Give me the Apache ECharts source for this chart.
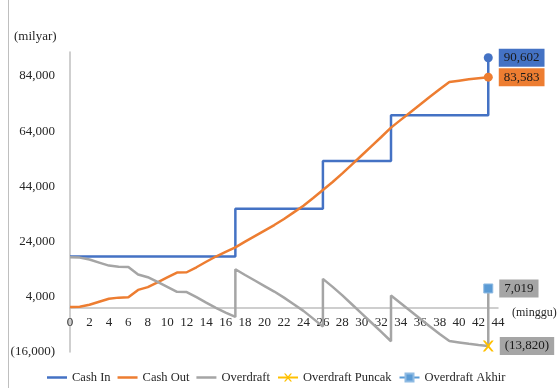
<!DOCTYPE html>
<html>
<head>
<meta charset="utf-8">
<script src="https://cdn.jsdelivr.net/npm/echarts@6/dist/echarts.min.js"></script>
<style>
  html, body { margin: 0; padding: 0; background: #fff; }
  #chart { width: 559px; height: 388px; }
</style>
</head>
<body>
<div id="chart"></div>
<script>
// Weekly cash flow (milyar), weeks 0..44
const weekTicks = [0, 2, 4, 6, 8, 10, 12, 14, 16, 18, 20, 22, 24, 26, 28, 30, 32, 34, 36, 38, 40, 42, 44];

// Cash In: cumulative receipts, stepping up at each payment week
const cashInWeeks = [0, 17, 26, 33, 43];
const cashInValues = [18600, 35900, 53200, 69763, 90602];

// Cash Out: cumulative spending per week
const cashOutWeeks = [0, 1, 2, 3, 4, 5, 6, 7, 8, 9, 10, 11, 12, 13, 14, 15, 16, 17, 18, 19, 20, 21,
  22, 23, 24, 25, 26, 27, 28, 29, 30, 31, 32, 33, 34, 35, 36, 37, 38, 39, 40, 41, 42, 43];
const cashOutValues = [300, 400, 1100, 2200, 3300, 3700, 3800, 6500, 7500, 9200, 11000, 12800, 12900,
  14700, 16700, 18600, 20300, 21900, 24000, 26000, 28000, 30000, 32200, 34600, 37000, 39800, 42700,
  45600, 48700, 52000, 55300, 58600, 61900, 65300, 68100, 70900, 73700, 76500, 79200, 81800, 82300,
  82800, 83200, 83583];

// Overdraft: balance per week (payment weeks appear twice: before and after receipt)
const overdraftWeeks = [0, 1, 2, 3, 4, 5, 6, 7, 8, 9, 10, 11, 12, 13, 14, 15, 16, 17, 17,
  18, 19, 20, 21, 22, 23, 24, 25, 26, 26,
  27, 28, 29, 30, 31, 32, 33, 33,
  34, 35, 36, 37, 38, 39, 40, 41, 42, 43, 43];
const overdraftValues = [18300, 18200, 17500, 16400, 15300, 14900, 14800, 12100, 11100, 9400, 7600,
  5800, 5700, 3900, 1900, 0, -1700, -3300, 14000,
  11900, 9900, 7900, 5900, 3700, 1300, -1100, -3900, -6800, 10500,
  7600, 4500, 1200, -2100, -5400, -8700, -12100, 4463,
  1663, -1137, -3937, -6737, -9437, -12037, -12537, -13037, -13437, -13820, 7019];

// Peak and final overdraft
const peakWeek = 43, peakValue = -13820;
const finalWeek = 43, finalValue = 7019;

const FONT = 'Liberation Serif';
const TEXT = '#262626';

// Axis range (milyar)
const Y_MIN = -16000, Y_MAX = 92700;
const GRID = { left: 70, right: 61, top: 52, bottom: 36 };
const PLOT_H = 388 - GRID.top - GRID.bottom;
// Shift the week axis up so it crosses the value axis at zero
const xAxisOffset = -PLOT_H * (0 - Y_MIN) / (Y_MAX - Y_MIN);

function fmt(v) {
  const s = Math.abs(Math.round(v)).toString().replace(/\B(?=(\d{3})+(?!\d))/g, ',');
  return v < 0 ? '(' + s + ')' : s;
}

function boxLabel(bg) {
  return {
    show: true,
    position: 'right',
    distance: 6,
    formatter: p => fmt(p.value[1]),
    backgroundColor: bg,
    color: '#1a1a1a',
    fontFamily: FONT,
    fontSize: 13,
    lineHeight: 14,
    padding: [2, 5, 2, 5]
  };
}

function pairs(xs, ys) { return xs.map((x, i) => [x, ys[i]]); }

const cashInData = pairs(cashInWeeks, cashInValues).map((d, i, arr) =>
  i === arr.length - 1
    ? { value: d, symbol: 'circle', symbolSize: 9, label: boxLabel('#4472C4') }
    : { value: d });

const cashOutData = pairs(cashOutWeeks, cashOutValues).map((d, i, arr) =>
  i === arr.length - 1
    ? { value: d, symbol: 'circle', symbolSize: 9, label: boxLabel('#ED7D31') }
    : { value: d });

const xMark = 'path://M0,0 L2,0 L5,3.5 L8,0 L10,0 L6,5 L10,10 L8,10 L5,6.5 L2,10 L0,10 L4,5 Z';
const lineIcon = 'path://M0,0 L8,0 L8,1 L0,1 Z';

const chart = echarts.init(document.getElementById('chart'), null, { renderer: 'canvas' });

chart.setOption({
  animation: false,
  backgroundColor: '#ffffff',
  textStyle: { fontFamily: FONT },
  grid: Object.assign({ containLabel: false }, GRID),
  graphic: [
    { type: 'line', shape: { x1: 8.5, y1: 0, x2: 8.5, y2: 388 }, style: { stroke: '#bfbfbf', lineWidth: 1 } },
    { type: 'text', left: 14, top: 30, style: { text: '(milyar)', font: '13px "Liberation Serif"', fill: TEXT } },
    { type: 'text', left: 512, top: 307, style: { text: '(minggu)', font: '12px "Liberation Serif"', fill: TEXT } }
  ],
  legend: {
    left: 42,
    top: 366,
    itemWidth: 20,
    itemHeight: 10,
    itemGap: 7,
    textStyle: { fontFamily: FONT, fontSize: 12.5, color: TEXT },
    data: [
      { name: 'Cash In', icon: lineIcon },
      { name: 'Cash Out', icon: lineIcon },
      { name: 'Overdraft', icon: lineIcon },
      'Overdraft Puncak',
      'Overdraft Akhir'
    ]
  },
  xAxis: {
    type: 'value',
    min: 0,
    max: 44,
    interval: 2,
    position: 'bottom',
    offset: xAxisOffset,
    axisLine: { onZero: false, lineStyle: { color: '#bfbfbf', width: 1.5 } },
    axisTick: { show: false },
    splitLine: { show: false },
    axisLabel: {
      margin: 8,
      fontFamily: FONT,
      fontSize: 13,
      color: TEXT,
      formatter: v => (weekTicks.includes(v) ? String(v) : '')
    }
  },
  yAxis: {
    type: 'value',
    min: Y_MIN,
    max: Y_MAX,
    interval: 20000,
    axisLine: { show: true, onZero: false, lineStyle: { color: '#bfbfbf', width: 1.5 } },
    axisTick: { show: false },
    splitLine: { show: false },
    axisLabel: {
      showMaxLabel: false,
      margin: 15,
      fontFamily: FONT,
      fontSize: 13,
      color: TEXT,
      formatter: v => fmt(v)
    }
  },
  series: [
    {
      name: 'Cash In',
      type: 'line',
      step: 'end',
      symbol: 'none',
      data: cashInData,
      lineStyle: { color: '#4472C4', width: 2.5 },
      itemStyle: { color: '#4472C4' },
      z: 2
    },
    {
      name: 'Cash Out',
      type: 'line',
      symbol: 'none',
      data: cashOutData,
      lineStyle: { color: '#ED7D31', width: 2.5 },
      itemStyle: { color: '#ED7D31' },
      z: 3
    },
    {
      name: 'Overdraft',
      type: 'line',
      symbol: 'none',
      data: pairs(overdraftWeeks, overdraftValues),
      lineStyle: { color: '#A5A5A5', width: 2.5 },
      itemStyle: { color: '#A5A5A5' },
      z: 4
    },
    {
      name: 'Overdraft Puncak',
      type: 'line',
      symbol: xMark,
      symbolSize: 11,
      data: [{ value: [peakWeek, peakValue], label: boxLabel('#A5A5A5') }],
      lineStyle: { color: '#FFC000', width: 2.5 },
      itemStyle: { color: '#FFC000' },
      z: 5
    },
    {
      name: 'Overdraft Akhir',
      type: 'line',
      symbol: 'rect',
      symbolSize: 9,
      data: [{ value: [finalWeek, finalValue], label: boxLabel('#A5A5A5') }],
      lineStyle: { color: '#5B9BD5', width: 2.5 },
      itemStyle: { color: '#5B9BD5', borderColor: '#8fbbe3', borderWidth: 1 },
      z: 5
    }
  ]
});
</script>
</body>
</html>
